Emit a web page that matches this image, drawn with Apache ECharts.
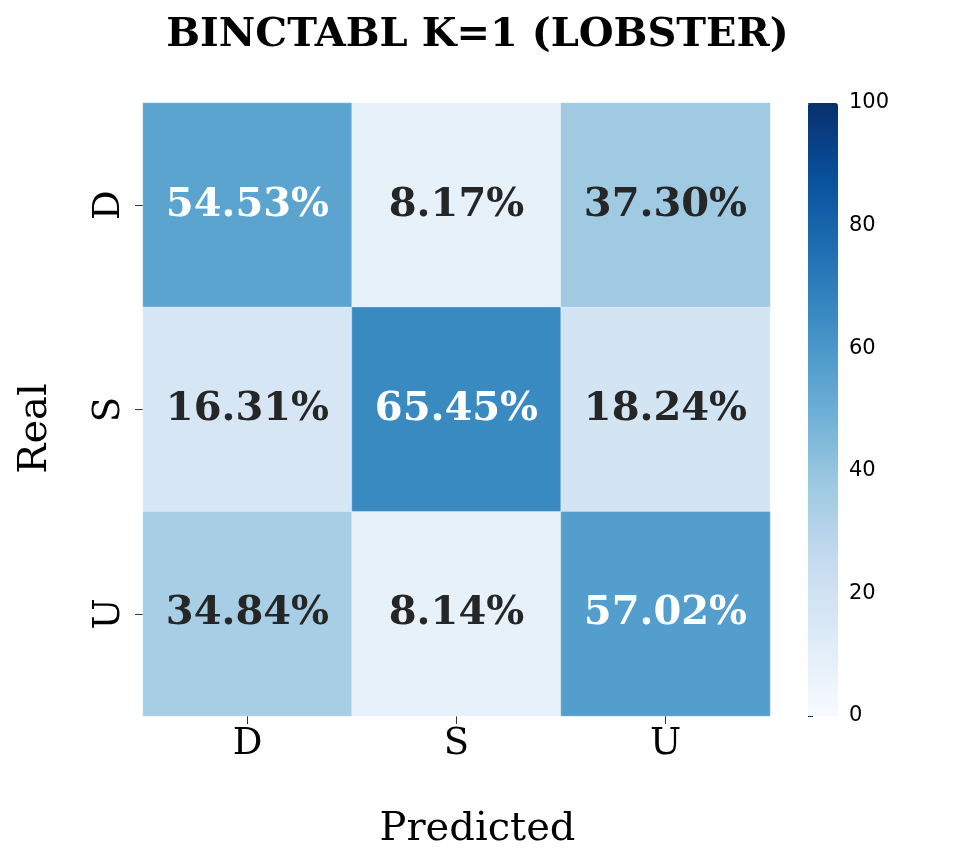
<!DOCTYPE html>
<html><head><meta charset="utf-8">
<script src="https://cdn.jsdelivr.net/npm/echarts@6/dist/echarts.min.js"></script>
<style>html,body{margin:0;padding:0;background:#fff}#c{width:955px;height:860px}</style>
</head><body><div id="c"></div>
<script>
var xCategories = ['D', 'S', 'U'];
var yCategories = ['D', 'S', 'U'];
var matrix = [
  [54.53, 8.17, 37.30],
  [16.31, 65.45, 18.24],
  [34.84, 8.14, 57.02]
];
var colorbarTicks = [0, 20, 40, 60, 80, 100];

var data = [];
for (var r = 0; r < 3; r++) for (var c = 0; c < 3; c++) {
  data.push({value: [c, r, matrix[r][c]], label: {color: matrix[r][c] > 50 ? '#ffffff' : '#262626'}});
}

var serif = 'DejaVu Serif';
var chart = echarts.init(document.getElementById('c'));
chart.setOption({
  animation: false,
  backgroundColor: '#fff',
  title: {text: 'BINCTABL K=1 (LOBSTER)', left: 'center', top: 11,
    textStyle: {fontFamily: serif, fontWeight: 'bold', fontSize: 40, color: '#000'}},
  grid: [
    {left: 143, top: 103, width: 627, height: 613},
    {left: 808, top: 103, width: 30, height: 613}
  ],
  xAxis: [
    {type: 'category', data: xCategories, gridIndex: 0, position: 'bottom',
     name: 'Predicted', nameLocation: 'middle', nameGap: 94,
     nameTextStyle: {fontFamily: serif, fontSize: 40, color: '#000', padding: [0, 0, 0, 42]},
     axisLine: {show: false}, axisTick: {show: true, alignWithLabel: true, length: 8, lineStyle: {color: '#333'}},
     axisLabel: {fontFamily: serif, fontSize: 37, color: '#000', margin: 10}, splitLine: {show: false}},
    {type: 'value', gridIndex: 1, show: false, min: 0, max: 1}
  ],
  yAxis: [
    {type: 'category', data: yCategories, gridIndex: 0, inverse: true,
     name: 'Real', nameLocation: 'middle', nameGap: 87, nameRotate: 90,
     nameTextStyle: {fontFamily: serif, fontSize: 40, color: '#000', padding: [0, 38, 0, 0]},
     axisLine: {show: false}, axisTick: {show: true, alignWithLabel: true, length: 8, lineStyle: {color: '#333'}},
     axisLabel: {fontFamily: serif, fontSize: 37, color: '#000', rotate: 90, margin: 15}, splitLine: {show: false}},
    {type: 'value', gridIndex: 1, position: 'right', min: 0, max: 100, interval: 20,
     axisLine: {show: false}, axisTick: {show: true, length: 5, lineStyle: {color: '#333'}},
     axisLabel: {fontFamily: 'DejaVu Sans', fontSize: 21, color: '#000', margin: 11,
       formatter: function (v) { return colorbarTicks.indexOf(v) >= 0 ? String(v) : ''; }},
     splitLine: {show: false}}
  ],
  visualMap: {
    type: 'continuous', min: 0, max: 100, calculable: false, seriesIndex: 0,
    left: 808, top: 103, itemWidth: 30, itemHeight: 613, padding: 0,
    text: null, showLabel: false, hoverLink: false,
    inRange: {color: ['#f7fbff','#deebf7','#c6dbef','#9ecae1','#6baed6','#4292c6','#2171b5','#08519c','#08306b']}
  },
  series: [{
    type: 'heatmap', xAxisIndex: 0, yAxisIndex: 0, data: data,
    itemStyle: {borderColor: 'rgba(255,255,255,0.5)', borderWidth: 0.5},
    label: {show: true, fontFamily: serif, fontWeight: 'bold', fontSize: 40,
      formatter: function (p) { return p.value[2].toFixed(2) + '%'; }}
  }, {
    type: 'scatter', xAxisIndex: 1, yAxisIndex: 1, data: [], silent: true
  }]
});
</script></body></html>
